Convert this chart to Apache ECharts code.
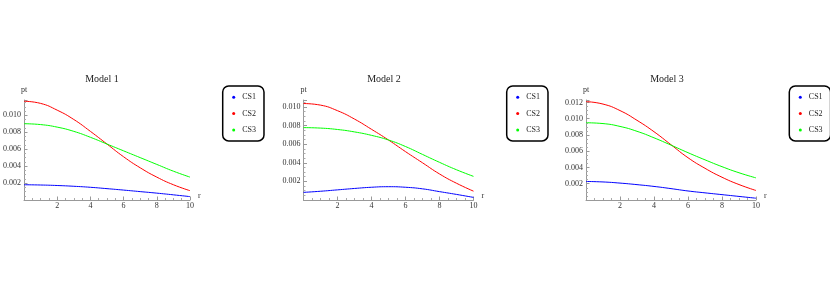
<!DOCTYPE html>
<html>
<head>
<meta charset="utf-8">
<script src="https://cdn.jsdelivr.net/npm/echarts@6/dist/echarts.min.js"></script>
<style>
html,body{margin:0;padding:0;background:#fff;}
#chart{width:830px;height:284px;}
</style>
</head>
<body>
<div id="chart"></div>
<script>
// ---- data ----
const titles = ['Model 1', 'Model 2', 'Model 3'];
const seriesNames = ['CS1', 'CS2', 'CS3'];
const rValues = [0, 1, 2, 3, 4, 5, 6, 7, 8, 9, 10];
const yMax = [0.0118, 0.01075, 0.0123];

const model1CS1 = [0.00180, 0.00177, 0.00171, 0.00162, 0.00150, 0.00134, 0.00117, 0.00099, 0.00081, 0.00061, 0.00040];
const model1CS2 = [0.01165, 0.01140, 0.01060, 0.00950, 0.00810, 0.00660, 0.00510, 0.00380, 0.00270, 0.00180, 0.00110];
const model1CS3 = [0.00900, 0.00890, 0.00860, 0.00810, 0.00740, 0.00660, 0.00580, 0.00500, 0.00420, 0.00340, 0.00270];

const model2CS1 = [0.00082, 0.00094, 0.00109, 0.00124, 0.00137, 0.00143, 0.00137, 0.00120, 0.00090, 0.00060, 0.00028];
const model2CS2 = [0.01037, 0.01020, 0.00960, 0.00870, 0.00760, 0.00645, 0.00520, 0.00400, 0.00280, 0.00180, 0.00095];
const model2CS3 = [0.00778, 0.00773, 0.00758, 0.00732, 0.00695, 0.00645, 0.00575, 0.00490, 0.00405, 0.00325, 0.00254];

const model3CS1 = [0.00228, 0.00222, 0.00208, 0.00189, 0.00167, 0.00140, 0.00111, 0.00088, 0.00066, 0.00044, 0.00022];
const model3CS2 = [0.01210, 0.01180, 0.01100, 0.00980, 0.00840, 0.00680, 0.00520, 0.00390, 0.00280, 0.00190, 0.00117];
const model3CS3 = [0.00950, 0.00940, 0.00905, 0.00845, 0.00765, 0.00675, 0.00582, 0.00494, 0.00410, 0.00335, 0.00272];

const models = [
  [model1CS1, model1CS2, model1CS3],
  [model2CS1, model2CS2, model2CS3],
  [model3CS1, model3CS2, model3CS3]
];
const colors = ['#0000ff', '#ff0000', '#00ff00'];

// ---- layout ----
const FONT = "'Liberation Serif', 'Times New Roman', serif";
const gridLeft = [20, 303.5, 586];
const titleX = [102, 384, 667];
const legendLeft = [222.7, 506.7, 789.3];

const chart = echarts.init(document.getElementById('chart'), null, {renderer: 'canvas'});

const grids = [], xAxes = [], yAxes = [], series = [], legends = [], graphics = [];
for (let p = 0; p < 3; p++) {
  grids.push({left: gridLeft[p], top: 100, width: 170, height: 100, containLabel: false});
  xAxes.push({
    type: 'value', gridIndex: p, min: 0, max: 10, interval: 2,
    name: 'r', nameLocation: 'end', nameGap: 8,
    nameTextStyle: {fontFamily: FONT, fontSize: 8, color: '#333', verticalAlign: 'bottom'},
    axisLine: {show: true, onZero: false, lineStyle: {color: '#999', width: 1}},
    axisTick: {show: true, inside: true, length: 3.5, lineStyle: {color: '#999'}},
    minorTick: {show: true, splitNumber: 4, length: 2, lineStyle: {color: '#aaa'}},
    axisLabel: {show: true, margin: 2, fontFamily: FONT, fontSize: 8, color: '#333', showMinLabel: false},
    splitLine: {show: false}
  });
  yAxes.push({
    type: 'value', gridIndex: p, min: 0, max: yMax[p], interval: 0.002,
    name: 'pt', nameLocation: 'end', nameGap: 6,
    nameTextStyle: {fontFamily: FONT, fontSize: 8, color: '#333', align: 'center'},
    axisLine: {show: true, onZero: false, lineStyle: {color: '#999', width: 1}},
    axisTick: {show: true, inside: true, length: 3.5, lineStyle: {color: '#999'}},
    minorTick: {show: true, splitNumber: 4, length: 2, lineStyle: {color: '#aaa'}},
    axisLabel: {show: true, margin: 3, fontFamily: FONT, fontSize: 8, color: '#333',
      showMinLabel: false, showMaxLabel: false,
      formatter: v => v.toFixed(3)},
    splitLine: {show: false}
  });
  for (let s = 0; s < 3; s++) {
    series.push({
      type: 'line', name: seriesNames[s], xAxisIndex: p, yAxisIndex: p,
      data: rValues.map((r, i) => [r, models[p][s][i]]),
      smooth: true, showSymbol: false, symbol: 'none',
      lineStyle: {color: colors[s], width: 1},
      itemStyle: {color: colors[s]},
      silent: true, animation: false
    });
  }
  legends.push({
    orient: 'vertical', left: legendLeft[p], top: 86,
    data: seriesNames.map(n => ({name: n, icon: 'circle'})),
    itemWidth: 3, itemHeight: 3, itemGap: 8.3,
    padding: [7.3, 8, 7, 9.5],
    borderColor: '#000', borderWidth: 1.5, borderRadius: 6,
    textStyle: {fontFamily: FONT, fontSize: 8, color: '#222', lineHeight: 8, padding: [0, 0, 0, 2]},
    selectedMode: false
  });
  graphics.push({
    type: 'text', x: titleX[p], y: 79,
    style: {text: titles[p], fontFamily: FONT, fontSize: 10, fill: '#222', align: 'center', verticalAlign: 'middle'}
  });
}

chart.setOption({
  animation: false,
  grid: grids,
  xAxis: xAxes,
  yAxis: yAxes,
  series: series,
  legend: legends,
  graphic: graphics
});
</script>
</body>
</html>
